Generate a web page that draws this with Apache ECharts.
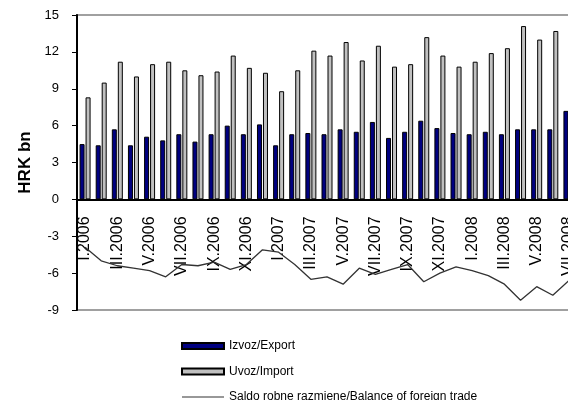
<!DOCTYPE html>
<html>
<head>
<meta charset="utf-8">
<script src="https://cdn.jsdelivr.net/npm/echarts@6/dist/echarts.min.js"></script>
<style>html,body{margin:0;padding:0;background:#fff}#c{width:568px;height:400px}</style>
</head>
<body>
<div id="c"></div>
<script>
var categories = ["I.2006","II.2006","III.2006","IV.2006","V.2006","VI.2006","VII.2006","VIII.2006","IX.2006","X.2006","XI.2006","XII.2006",
  "I.2007","II.2007","III.2007","IV.2007","V.2007","VI.2007","VII.2007","VIII.2007","IX.2007","X.2007","XI.2007","XII.2007",
  "I.2008","II.2008","III.2008","IV.2008","V.2008","VI.2008","VII.2008"];
var exportValues = [4.5,4.4,5.7,4.4,5.1,4.8,5.3,4.7,5.3,6.0,5.3,6.1,
  4.4,5.3,5.4,5.3,5.7,5.5,6.3,5.0,5.5,6.4,5.8,5.4,
  5.3,5.5,5.3,5.7,5.7,5.7,7.2];
var importValues = [8.3,9.5,11.2,10.0,11.0,11.2,10.5,10.1,10.4,11.7,10.7,10.3,
  8.8,10.5,12.1,11.7,12.8,11.3,12.5,10.8,11.0,13.2,11.7,10.8,
  11.2,11.9,12.3,14.1,13.0,13.7,13.8];
var balanceValues = [-3.9,-5.0,-5.4,-5.6,-5.8,-6.3,-5.3,-5.4,-5.1,-5.7,-5.3,-4.1,
  -4.3,-5.3,-6.5,-6.3,-6.9,-5.6,-6.1,-5.7,-5.3,-6.7,-6.0,-5.5,
  -5.8,-6.2,-6.9,-8.2,-7.1,-7.8,-6.6];
var yTicks = {min: -9, max: 15, step: 3};
var seriesNames = ["Izvoz/Export", "Uvoz/Import", "Saldo robne razmjene/Balance of foreign trade"];
var yTitle = "HRK bn";

var chart = echarts.init(document.getElementById('c'), null, {renderer: 'canvas'});
var font = 'Liberation Sans, Arial, sans-serif';
var gridTop = 15, gridBottom = 90, H = 400;
var plotH = H - gridTop - gridBottom;
var zeroOffset = -plotH * (0 - yTicks.min) / (yTicks.max - yTicks.min);
chart.setOption({
  animation: false,
  backgroundColor: '#ffffff',
  textStyle: {fontFamily: font},
  grid: {left: 77, top: gridTop, bottom: gridBottom, width: 500, outerBoundsMode: 'none', containLabel: false,
         show: true, borderColor: '#a0a0a0', borderWidth: 2, backgroundColor: 'transparent'},
  legend: {
    orient: 'vertical', left: 176, top: 335, height: 120,
    itemWidth: 42, itemHeight: 6, itemGap: 13.5,
    textStyle: {fontSize: 12, color: '#000', fontFamily: font},
    data: [
      {name: seriesNames[0], icon: 'rect'},
      {name: seriesNames[1], icon: 'rect'},
      {name: seriesNames[2], icon: 'path://M0,0H0.01V0.01H0Z M0,2.6H42V3.4H0Z M41.99,5.99H42V6H41.99Z'}
    ]
  },
  xAxis: {
    type: 'category', data: categories, boundaryGap: true, position: 'bottom', offset: zeroOffset,
    axisLine: {onZero: false, lineStyle: {color: '#000', width: 2}},
    axisTick: {interval: 1, length: 4, lineStyle: {color: '#000', width: 1}},
    axisLabel: {interval: 1, rotate: 90, margin: 17, fontSize: 16, color: '#000', fontFamily: font, hideOverlap: false},
    splitLine: {show: false}
  },
  yAxis: {
    type: 'value', min: yTicks.min, max: yTicks.max, interval: yTicks.step,
    name: yTitle, nameLocation: 'middle', nameGap: 43, nameRotate: 90,
    nameTextStyle: {fontSize: 17, fontWeight: 'bold', color: '#000', fontFamily: font},
    axisLine: {show: true, lineStyle: {color: '#000', width: 2}},
    axisTick: {show: true, length: 5, lineStyle: {color: '#000', width: 1}},
    axisLabel: {fontSize: 13, color: '#000', margin: 18, fontFamily: font},
    splitLine: {show: false}
  },
  series: [
    {name: seriesNames[0], type: 'bar', data: exportValues, barWidth: 5, barGap: '20%',
     itemStyle: {color: '#000080', borderColor: '#000', borderWidth: 1}},
    {name: seriesNames[1], type: 'bar', data: importValues, barWidth: 5,
     itemStyle: {color: '#c0c0c0', borderColor: '#000', borderWidth: 1}},
    {name: seriesNames[2], type: 'line', data: balanceValues, symbol: 'none',
     lineStyle: {color: '#333', width: 1.3}, itemStyle: {color: '#333'}, z: 5}
  ]
});
</script>
</body>
</html>
